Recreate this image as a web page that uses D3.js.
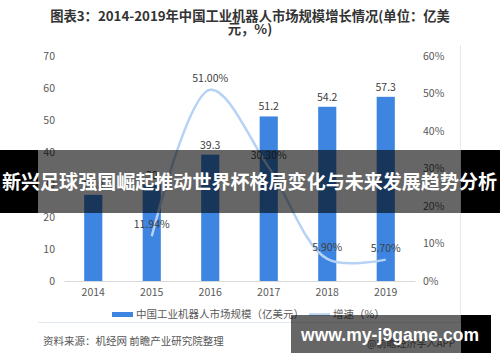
<!DOCTYPE html>
<html lang="zh">
<head>
<meta charset="UTF-8">
<title>2014-2019年中国工业机器人市场规模增长情况</title>
<script src="https://cdn.jsdelivr.net/npm/d3@7"></script>
<style>
  body { margin: 0; background: #fff; }
  svg { display: block; font-family: "Noto Sans CJK SC", "Noto Sans", sans-serif; }
</style>
</head>
<body>
<div id="chart"></div>
<script>
// data
var years = ["2014", "2015", "2016", "2017", "2018", "2019"];
var marketSize = [26.8, 30, 39.3, 51.2, 54.2, 57.3];          // 亿美元
var growth = [null, 11.94, 51.00, 30.30, 5.90, 5.70];         // %
var leftTicks = [0, 10, 20, 30, 40, 50, 60, 70];
var rightTicks = [0, 10, 20, 30, 40, 50, 60];

var W = 500, H = 362;
var svg = d3.select("#chart").append("svg").attr("width", W).attr("height", H);

// plot box (not "top" - that's window.top)
var plotL = 64, plotR = 415, plotT = 56, plotB = 281;

var x = d3.scaleBand().domain(years).range([plotL, plotR])
  .paddingInner(0.69).paddingOuter(0.345);
var yL = d3.scaleLinear().domain([0, 70]).range([plotB, plotT]);
var yR = d3.scaleLinear().domain([0, 60]).range([plotB, plotT]);
var cx = function (d) { return x(d) + x.bandwidth() / 2; };

// title
svg.append("text").attr("x", 250).attr("y", 21).attr("text-anchor", "middle")
  .attr("font-size", 13.3).attr("font-weight", "bold").attr("fill", "#333")
  .text("图表3：2014-2019年中国工业机器人市场规模增长情况(单位：亿美");
svg.append("text").attr("x", 250).attr("y", 34).attr("text-anchor", "middle")
  .attr("font-size", 13.3).attr("font-weight", "bold").attr("fill", "#333")
  .text("元，%)");

// frame lines
svg.append("line").attr("x1", 460.5).attr("x2", 460.5).attr("y1", 45).attr("y2", 323)
  .attr("stroke", "#e3e9f2");
svg.append("line").attr("x1", 38).attr("x2", 460).attr("y1", 322.5).attr("y2", 322.5)
  .attr("stroke", "#e3e9f2");

// left axis
var axL = svg.append("g").attr("transform", "translate(" + plotL + ",0)")
  .call(d3.axisLeft(yL).tickValues(leftTicks).tickSize(0).tickPadding(9));
axL.select(".domain").remove();
axL.selectAll("text").attr("font-size", 10.5).attr("fill", "#595959")
  .attr("font-family", "Noto Sans CJK SC");

// right axis
var axR = svg.append("g").attr("transform", "translate(" + plotR + ",0)")
  .call(d3.axisRight(yR).tickValues(rightTicks).tickSize(0).tickPadding(8)
    .tickFormat(function (d) { return d + "%"; }));
axR.select(".domain").remove();
axR.selectAll("text").attr("font-size", 10.5).attr("fill", "#595959")
  .attr("font-family", "Noto Sans CJK SC");

// x axis
var axX = svg.append("g").attr("transform", "translate(0," + plotB + ")")
  .call(d3.axisBottom(x).tickSize(0).tickPadding(8));
axX.select(".domain").attr("stroke", "#d9d9d9");
axX.selectAll("text").attr("font-size", 10.5).attr("fill", "#595959")
  .attr("font-family", "Noto Sans CJK SC");

// bars
svg.selectAll(".bar").data(marketSize).enter().append("rect")
  .attr("x", function (d, i) { return x(years[i]); })
  .attr("y", function (d) { return yL(d); })
  .attr("width", x.bandwidth())
  .attr("height", function (d) { return plotB - yL(d); })
  .attr("fill", "#3d85e0");

svg.selectAll(".barlab").data(marketSize).enter().append("text")
  .attr("x", function (d, i) { return cx(years[i]); })
  .attr("y", function (d) { return yL(d) - 6; })
  .attr("text-anchor", "middle").attr("font-size", 10.5).attr("fill", "#404040")
  .text(function (d) { return d; });

// growth line
var pts = growth.map(function (g, i) { return { k: years[i], v: g }; })
  .filter(function (d) { return d.v !== null; });
svg.append("path").datum(pts)
  .attr("fill", "none").attr("stroke", "#b6d2f4").attr("stroke-width", 2.5)
  .attr("d", d3.line().curve(d3.curveCatmullRom.alpha(0.5))
    .x(function (d) { return cx(d.k); })
    .y(function (d) { return yR(d.v); }));

svg.selectAll(".linelab").data(pts).enter().append("text")
  .attr("x", function (d) { return cx(d.k); })
  .attr("y", function (d) { return yR(d.v) - 8; })
  .attr("text-anchor", "middle").attr("font-size", 10.5).attr("fill", "#404040")
  .text(function (d) { return d.v.toFixed(2) + "%"; });

// legend
svg.append("rect").attr("x", 112).attr("y", 312).attr("width", 21).attr("height", 5)
  .attr("fill", "#3d85e0");
svg.append("text").attr("x", 136).attr("y", 318).attr("font-size", 10.5).attr("fill", "#595959")
  .text("中国工业机器人市场规模（亿美元）");
svg.append("line").attr("x1", 309).attr("x2", 330).attr("y1", 314.5).attr("y2", 314.5)
  .attr("stroke", "#b6d2f4").attr("stroke-width", 2.5);
svg.append("text").attr("x", 333).attr("y", 318).attr("font-size", 10.5).attr("fill", "#595959")
  .text("增速（%）");

// source
svg.append("text").attr("x", 43).attr("y", 345).attr("font-size", 10.5).attr("fill", "#555")
  .text("资料来源：机经网 前瞻产业研究院整理");
svg.append("text").attr("x", 367).attr("y", 347).attr("font-size", 10).attr("fill", "#666")
  .text("@前瞻经济学人APP");

// overlay banner
svg.append("rect").attr("x", 0).attr("y", 150).attr("width", 38).attr("height", 63).attr("fill", "#000");
svg.append("rect").attr("x", 461).attr("y", 150).attr("width", 39).attr("height", 63).attr("fill", "#000");
svg.append("rect").attr("x", 38).attr("y", 150).attr("width", 423).attr("height", 63)
  .attr("fill", "#000").attr("fill-opacity", 0.6);
svg.append("text").attr("x", 2).attr("y", 189).attr("font-size", 19)
  .attr("font-weight", "bold").attr("fill", "#fff").attr("textLength", 495)
  .text("新兴足球强国崛起推动世界杯格局变化与未来发展趋势分析");

// bottom watermark
svg.append("rect").attr("x", 291).attr("y", 315).attr("width", 170).attr("height", 38)
  .attr("fill", "#000").attr("fill-opacity", 0.6);
svg.append("rect").attr("x", 461).attr("y", 315).attr("width", 30).attr("height", 38).attr("fill", "#000");
svg.append("text").attr("x", 301).attr("y", 341).attr("font-size", 17.5).attr("font-weight", "bold")
  .attr("fill", "#fff").attr("font-family", "Liberation Sans, Arial, sans-serif")
  .attr("textLength", 178).text("www.my-j9game.com");
</script>
</body>
</html>
